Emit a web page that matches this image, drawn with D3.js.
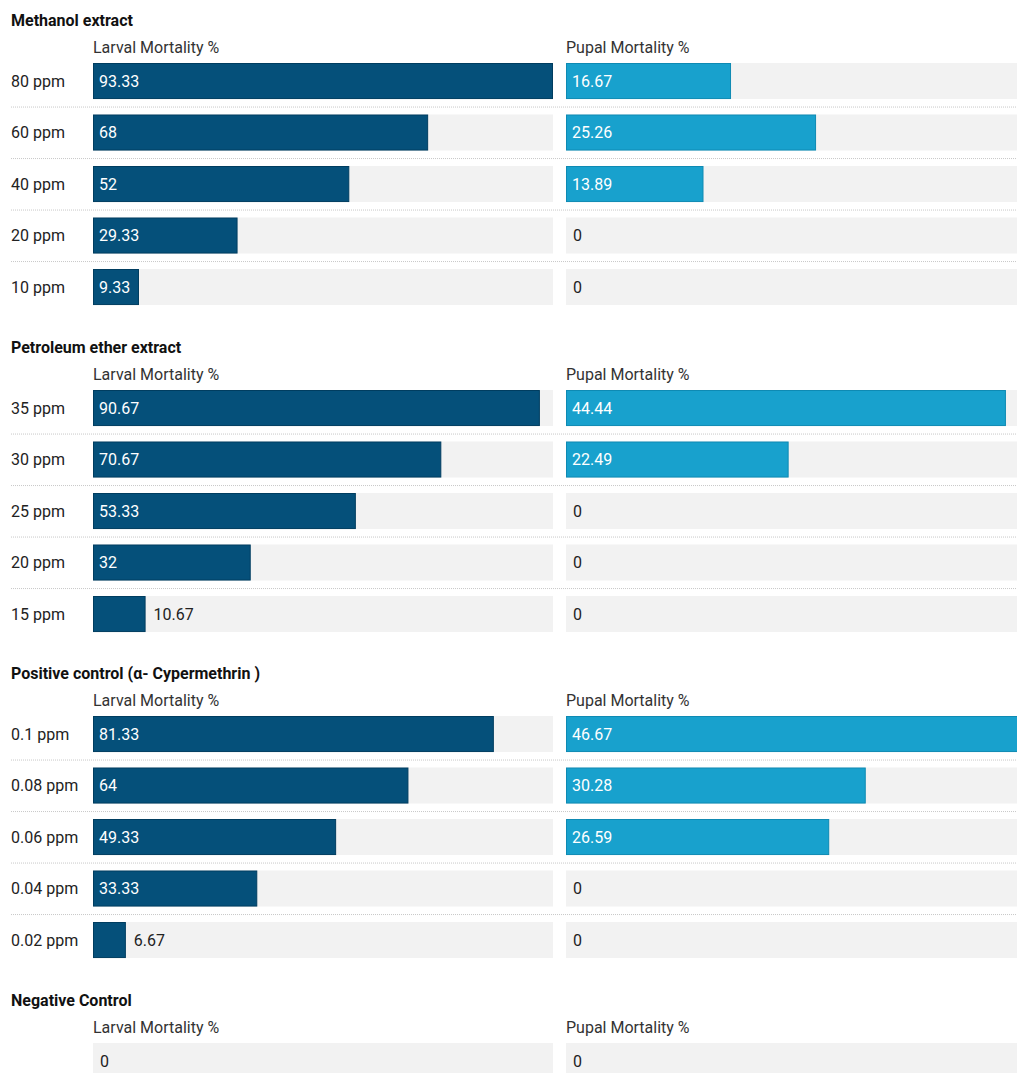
<!DOCTYPE html>
<html>
<head>
<meta charset="utf-8">
<script src="https://cdn.jsdelivr.net/npm/d3@7"></script>
<style>
  html, body { margin: 0; padding: 0; background: #fff; overflow: hidden; }
  svg { display: block; font-family: Roboto, "Noto Sans", sans-serif; }
  .title { font-weight: 700; font-size: 16px; fill: #111; }
  .head { font-size: 16px; fill: #333; }
  .row-label { font-size: 16px; fill: #222; }
  .val { font-size: 16px; }
</style>
</head>
<body>
<div id="chart"></div>
<script>
// groups (row sets) and their dose labels
const groups = ['Methanol extract', 'Petroleum ether extract', 'Positive control (α- Cypermethrin )', 'Negative Control'];
const doses = [
  ['80 ppm', '60 ppm', '40 ppm', '20 ppm', '10 ppm'],
  ['35 ppm', '30 ppm', '25 ppm', '20 ppm', '15 ppm'],
  ['0.1 ppm', '0.08 ppm', '0.06 ppm', '0.04 ppm', '0.02 ppm'],
  ['']
];
const columns = ['Larval Mortality %', 'Pupal Mortality %'];
const larval = [
  [93.33, 68, 52, 29.33, 9.33],
  [90.67, 70.67, 53.33, 32, 10.67],
  [81.33, 64, 49.33, 33.33, 6.67],
  [0]
];
const pupal = [
  [16.67, 25.26, 13.89, 0, 0],
  [44.44, 22.49, 0, 0, 0],
  [46.67, 30.28, 26.59, 0, 0],
  [0]
];

const width = 1017, height = 1073;
const colLeft = [93, 566];
const colW = [460, 462]; // pupal column runs past the right edge (cropped)
const fills = ['#05507a', '#18a1cd'];
const strokes = ['#003d60', '#0e8ab3'];
const groupTops = [0, 327, 653, 980];
const step = 51.5;

const svg = d3.select('#chart').append('svg').attr('width', width).attr('height', height);

const xL = d3.scaleLinear().domain([0, d3.max(larval.flat())]).range([0, colW[0]]);
const xP = d3.scaleLinear().domain([0, d3.max(pupal.flat())]).range([0, colW[1]]);
const scales = [xL, xP];
const series = [larval, pupal];

groups.forEach((name, gi) => {
  const g = svg.append('g').attr('transform', `translate(0,${groupTops[gi]})`);
  g.append('text').attr('class', 'title').attr('x', 11).attr('y', 26).text(name);

  const rows = doses[gi];
  const start = 63 - 0.15 * step;
  const y = d3.scaleBand().domain(rows.map((d, i) => i))
    .range([start, start + rows.length * step]).paddingInner(0.3).paddingOuter(0.15);
  const bh = y.bandwidth();

  // separators
  g.selectAll('line.sep').data(rows.slice(1)).enter().append('line')
    .attr('x1', 11).attr('x2', width)
    .attr('y1', (d, i) => y(i) + bh + 8).attr('y2', (d, i) => y(i) + bh + 8)
    .attr('stroke', '#c8c8c8').attr('stroke-dasharray', '1,1');

  g.selectAll('text.row-label').data(rows).enter().append('text')
    .attr('class', 'row-label').attr('x', 11)
    .attr('y', (d, i) => y(i) + bh / 2).attr('dy', '0.35em').text(d => d);

  columns.forEach((col, ci) => {
    const x0 = colLeft[ci];
    const x = scales[ci];
    const vals = series[ci][gi];
    g.append('text').attr('class', 'head').attr('x', x0).attr('y', 53).text(col);

    g.selectAll(`rect.bg${ci}`).data(vals).enter().append('rect')
      .attr('x', x0).attr('y', (d, i) => y(i)).attr('width', colW[ci]).attr('height', bh)
      .attr('fill', '#f2f2f2');

    g.selectAll(`rect.bar${ci}`).data(vals.filter(v => v > 0)).enter().append('rect')
      .attr('x', x0 + 0.5).attr('y', (d, i) => y(i) + 0.5)
      .attr('width', d => x(d) - 1).attr('height', bh - 1)
      .attr('fill', fills[ci]).attr('stroke', strokes[ci]).attr('stroke-width', 1);

    g.selectAll(`text.val${ci}`).data(vals).enter().append('text')
      .attr('class', 'val').attr('y', (d, i) => y(i) + bh / 2).attr('dy', '0.35em')
      .text(d => d)
      .each(function(d) {
        const t = d3.select(this);
        const tw = this.getComputedTextLength();
        const bw = x(d);
        if (d > 0 && bw - tw >= 13.5) {
          t.attr('x', x0 + 6).attr('fill', '#fff');
        } else if (d > 0) {
          t.attr('x', x0 + bw + 8).attr('fill', '#222');
        } else {
          t.attr('x', x0 + 7).attr('fill', '#222');
        }
      });
  });
});
</script>
</body>
</html>
